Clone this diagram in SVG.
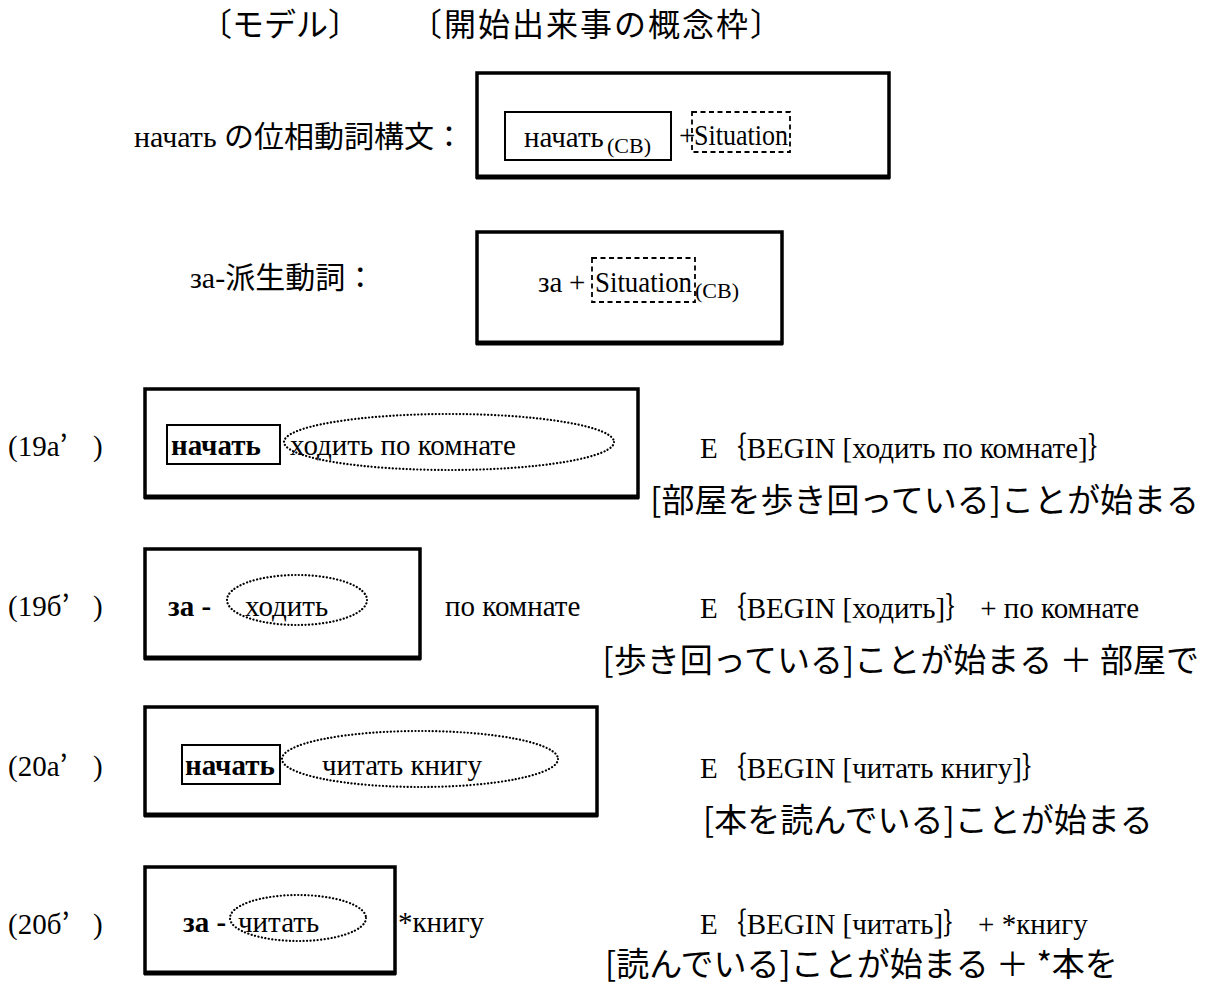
<svg xmlns="http://www.w3.org/2000/svg" width="1207" height="987" viewBox="0 0 1207 987">
<style>
text{fill:#000}
.ser{font-family:"Liberation Serif","Noto Sans CJK JP",serif;font-size:29px}
.serb{font-family:"Liberation Serif","Noto Sans CJK JP",serif;font-size:29px;font-weight:bold}
.sub{font-family:"Liberation Serif",serif;font-size:22px}
.jp{font-family:"Noto Sans CJK JP",sans-serif;font-size:33px}
.hd{font-family:"Noto Sans CJK JP",sans-serif;font-size:32px}
.mix{font-family:"Liberation Serif","Noto Sans CJK JP",serif;font-size:30px}
.cjk{font-family:"Noto Sans CJK JP",sans-serif}
.frame{fill:none;stroke:#000;stroke-width:3.5}
.inner{fill:none;stroke:#000;stroke-width:2}
.dash{fill:none;stroke:#000;stroke-width:1.8;stroke-dasharray:5 3.5}
.dot{fill:none;stroke:#000;stroke-width:2.2;stroke-dasharray:0.1 3.4;stroke-linecap:round}
.base{stroke:#000;stroke-width:5}
</style>

<g id="headers">
<text class="hd" x="200" y="36">〔モデル〕</text>
<text class="hd" x="410" y="36" textLength="372" lengthAdjust="spacing">〔開始出来事の概念枠〕</text>
</g>

<g id="model-nachat">
<text class="mix" x="134" y="147">начать の位相動詞構文：</text>
<rect class="frame" x="477" y="73" width="412" height="104"/>
<line class="base" x1="476" y1="177" x2="890" y2="177"/>
<rect class="inner" x="505" y="112" width="166" height="48"/>
<text class="ser" x="524" y="147">начать</text>
<text class="sub" x="607" y="153">(CB)</text>
<text class="ser" x="679" y="145">+</text>
<rect class="dash" x="692" y="112" width="98" height="40"/>
<text class="ser" x="694" y="145" textLength="94" lengthAdjust="spacingAndGlyphs">Situation</text>
</g>

<g id="model-za">
<text class="mix" x="190" y="288">за-派生動詞：</text>
<rect class="frame" x="477" y="232" width="305" height="111"/>
<line class="base" x1="476" y1="343" x2="783" y2="343"/>
<text class="ser" x="538" y="292">за</text>
<text class="ser" x="569" y="292">+</text>
<rect class="dash" x="592" y="258" width="103" height="44"/>
<text class="ser" x="595" y="292" textLength="97" lengthAdjust="spacingAndGlyphs">Situation</text>
<text class="sub" x="695" y="298">(CB)</text>
</g>

<g id="ex-19a">
<text class="ser" x="8" y="456">(19a<tspan class="cjk">’</tspan><tspan x="93">)</tspan></text>
<rect class="frame" x="145" y="389" width="493" height="108"/>
<line class="base" x1="144" y1="497" x2="639" y2="497"/>
<rect class="inner" x="167" y="425" width="113" height="39"/>
<text class="serb" x="171" y="455">начать</text>
<ellipse class="dot" cx="449" cy="442" rx="165" ry="28"/>
<text class="ser" x="290" y="455">ходить по комнате</text>
<text class="ser" x="700" y="458">E<tspan class="cjk">｛</tspan>BEGIN [ходить по комнате]<tspan class="cjk">｝</tspan></text>
<text class="jp" x="1199" y="512" text-anchor="end">[部屋を歩き回っている]ことが始まる</text>
</g>

<g id="ex-19b">
<text class="ser" x="8" y="616">(19б<tspan class="cjk">’</tspan><tspan x="93">)</tspan></text>
<rect class="frame" x="145" y="549" width="275" height="109"/>
<line class="base" x1="144" y1="658" x2="421" y2="658"/>
<text class="serb" x="168" y="616">за -</text>
<ellipse class="dot" cx="297" cy="600" rx="70" ry="25"/>
<text class="ser" x="245" y="616">ходить</text>
<text class="ser" x="445" y="616">по комнате</text>
<text class="ser" x="700" y="618">E<tspan class="cjk">｛</tspan>BEGIN [ходить]<tspan class="cjk">｝</tspan><tspan dx="6">+ по комнате</tspan></text>
<text class="jp" x="1199" y="672" text-anchor="end">[歩き回っている]ことが始まる ＋ 部屋で</text>
</g>

<g id="ex-20a">
<text class="ser" x="8" y="776">(20a<tspan class="cjk">’</tspan><tspan x="93">)</tspan></text>
<rect class="frame" x="145" y="707" width="452" height="108"/>
<line class="base" x1="144" y1="815" x2="598" y2="815"/>
<rect class="inner" x="182" y="745" width="98" height="39"/>
<text class="serb" x="185" y="775">начать</text>
<ellipse class="dot" cx="420" cy="759" rx="138" ry="28"/>
<text class="ser" x="322" y="775">читать книгу</text>
<text class="ser" x="700" y="778">E<tspan class="cjk">｛</tspan>BEGIN [читать книгу]<tspan class="cjk">｝</tspan></text>
<text class="jp" x="703" y="832">[本を読んでいる]ことが始まる</text>
</g>

<g id="ex-20b">
<text class="ser" x="8" y="934">(20б<tspan class="cjk">’</tspan><tspan x="93">)</tspan></text>
<rect class="frame" x="145" y="867" width="250" height="106"/>
<line class="base" x1="144" y1="973" x2="396" y2="973"/>
<text class="serb" x="183" y="932">за -</text>
<ellipse class="dot" cx="298" cy="918" rx="68" ry="23"/>
<text class="ser" x="238" y="932">читать</text>
<text class="ser" x="398" y="932">*книгу</text>
<text class="ser" x="700" y="934">E<tspan class="cjk">｛</tspan>BEGIN [читать]<tspan class="cjk">｝</tspan><tspan dx="6">+ *книгу</tspan></text>
<text class="jp" x="605" y="976">[読んでいる]ことが始まる ＋ *本を</text>
</g>
</svg>
